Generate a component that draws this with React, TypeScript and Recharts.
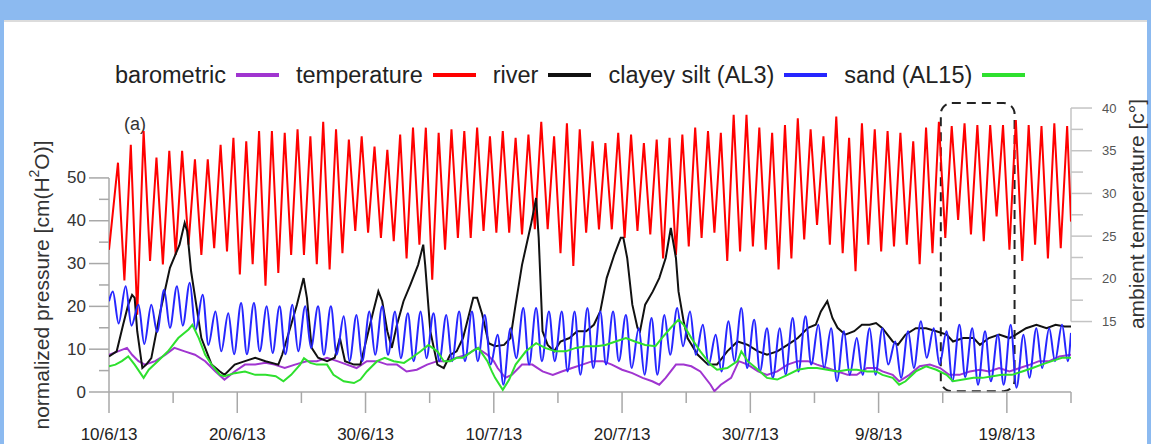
import { LineChart, Line, XAxis, YAxis, ReferenceLine, ReferenceArea } from "recharts";

// x axis: days since 10/6/13
const X_TICKS = [0, 5, 10, 15, 20, 25, 30, 35, 40, 45, 50, 55, 60, 65, 70, 75];
const X_TICK_LABELS = [
  "10/6/13", "", "20/6/13", "", "30/6/13", "", "10/7/13", "", "20/7/13", "",
  "30/7/13", "", "9/8/13", "", "19/8/13", "",
];
const PRESSURE_TICKS = [0, 5, 10, 15, 20, 25, 30, 35, 40, 45, 50];
const TEMP_TICKS = [15, 17.5, 20, 22.5, 25, 27.5, 30, 32.5, 35, 37.5, 40];

// ambient temperature [c°], daily maxima (afternoon) and minima (early morning)
const TEMP_START = 23.4;
const TEMP_END = 26.7;
const TEMP_DAILY_MAX = [
  33.6, 35.7, 37.3, 34.2, 35.0, 35.0, 34.0, 34.0, 35.7, 36.5,
  36.1, 37.3, 37.3, 37.1, 37.5, 36.7, 38.4, 37.5, 36.3, 36.7,
  35.5, 35.1, 36.9, 37.7, 37.7, 37.1, 37.5, 37.3, 37.7, 36.7,
  37.3, 36.5, 36.9, 38.4, 36.7, 38.2, 37.5, 36.1, 35.9, 37.1,
  36.9, 35.9, 36.3, 36.5, 36.9, 37.7, 37.3, 37.1, 39.2, 39.2,
  37.7, 37.1, 38.0, 38.8, 37.5, 36.7, 39.0, 36.5, 38.2, 37.5,
  37.3, 37.1, 36.1, 37.7, 38.4, 37.9, 38.2, 38.0, 38.0, 38.0,
  38.6, 38.0, 37.9, 38.2, 37.9,
];
const TEMP_DAILY_MIN = [
  19.8, 15.8, 22.1, 21.7, 22.8, 24.0, 22.8, 23.6, 23.2, 20.5,
  21.7, 19.2, 20.7, 22.8, 22.8, 21.7, 21.1, 23.0, 25.6, 25.4,
  24.8, 24.4, 22.4, 24.0, 19.9, 23.4, 24.8, 24.8, 25.6, 25.4,
  25.4, 25.2, 25.8, 25.8, 23.0, 21.5, 25.4, 25.8, 25.8, 24.8,
  25.6, 25.2, 22.4, 22.8, 23.8, 24.8, 25.4, 22.1, 23.2, 23.8,
  23.4, 21.1, 22.4, 24.6, 26.3, 24.0, 23.0, 20.9, 24.0, 23.2,
  23.8, 24.0, 21.7, 23.0, 24.8, 26.9, 25.2, 24.4, 27.3, 23.4,
  22.1, 24.0, 22.4, 23.6,
];

// clayey silt (AL3) pressure [cm(H2O)], daily maxima and minima
const CLAY_START = 21.2;
const CLAY_END = 13.8;
const CLAY_DAILY_MAX = [
  23.5, 24.7, 20.4, 20.4, 23.9, 24.7, 25.5, 22.7, 18.8, 18.4,
  20.8, 20.8, 20.0, 20.0, 20.4, 20.0, 20.0, 20.0, 17.7, 18.0,
  18.8, 20.0, 18.8, 18.4, 18.8, 18.4, 18.0, 18.8, 18.8, 18.0,
  13.4, 14.9, 19.6, 19.6, 18.8, 18.8, 18.8, 19.6, 18.8, 18.8,
  18.0, 14.9, 17.3, 18.0, 19.6, 18.8, 15.7, 13.4, 16.5, 19.6,
  16.9, 14.9, 14.9, 17.3, 17.7, 15.7, 14.9, 14.2, 12.6, 14.9,
  14.9, 11.8, 14.2, 16.5, 14.9, 14.2, 15.7, 14.9, 14.2, 13.4,
  15.7, 13.4, 14.9, 14.9, 15.7,
];
const CLAY_DAILY_MIN = [
  16.0, 15.5, 11.2, 14.0, 15.0, 15.5, 14.5, 11.0, 9.5, 8.8,
  8.8, 9.5, 9.1, 8.8, 9.5, 10.3, 8.7, 8.7, 7.2, 7.2,
  8.7, 8.7, 7.9, 7.2, 7.9, 7.2, 7.2, 7.2, 7.2, 6.4,
  1.7, 7.9, 6.4, 7.2, 7.2, 4.8, 4.0, 5.6, 6.4, 7.2,
  5.6, 4.0, 4.0, 8.7, 10.7, 8.7, 6.4, 4.8, 7.2, 5.6,
  4.8, 3.3, 4.0, 4.8, 6.4, 5.6, 2.5, 4.0, 4.0, 4.0,
  6.4, 3.3, 5.6, 8.0, 6.4, 2.5, 3.5, 1.7, 2.5, 1.7,
  1.0, 3.3, 5.6, 7.2, 7.2,
];

// [day, pressure]
const BAROMETRIC: [number, number][] = [
  [0, 8.7], [0.7, 9.5], [1.4, 10.3], [1.8, 8.7], [2.3, 7.2], [2.8, 6.4], [3.6, 7.2], [4.4, 8.7],
  [5.1, 10.3], [5.9, 9.5], [6.7, 8.7], [7.5, 7.2], [8.3, 4.8], [9.0, 2.9], [9.8, 4.8], [10.6, 6.4],
  [11.4, 6.4], [12.2, 6.8], [12.9, 6.4], [13.7, 5.6], [14.5, 6.4], [15.4, 7.2], [16.2, 7.2], [17.0, 8.0],
  [17.8, 7.2], [18.55, 6.4], [19.3, 5.6], [20.1, 7.2], [20.9, 7.2], [21.7, 6.4], [22.45, 6.4], [23.2, 4.8],
  [24.0, 5.2], [24.8, 6.4], [25.6, 7.2], [26.3, 7.2], [27.1, 8.0], [27.9, 8.7], [28.7, 10.3], [29.5, 8.7],
  [30.0, 7.2], [30.3, 5.6], [30.9, 3.3], [31.4, 4.0], [32.2, 6.4], [33.0, 6.4], [33.8, 4.8], [34.6, 4.0],
  [35.3, 4.8], [36.1, 5.6], [36.9, 6.4], [37.7, 7.2], [38.5, 7.2], [39.2, 6.4], [40.0, 5.2], [40.8, 4.4],
  [41.6, 3.3], [42.35, 2.5], [42.9, 1.7], [43.4, 3.3], [44.2, 6.4], [44.8, 6.4], [45.4, 6.0], [46.1, 4.8],
  [46.9, 1.7], [47.2, 0.2], [47.7, 1.7], [48.5, 3.3], [49.1, 7.2], [49.8, 6.4], [50.6, 4.8], [51.3, 4.0],
  [52.1, 4.8], [52.9, 6.4], [53.7, 7.2], [54.5, 7.2], [55.2, 6.4], [56.0, 5.6], [56.8, 4.8], [57.6, 4.0],
  [58.3, 4.0], [59.1, 5.6], [59.8, 5.6], [60.3, 4.8], [61.1, 4.0], [61.6, 2.5], [62.4, 4.0], [63.2, 6.0],
  [64.0, 6.4], [64.8, 5.6], [65.5, 4.0], [66.3, 4.0], [67.1, 4.8], [67.9, 5.2], [68.6, 4.8], [69.4, 5.6],
  [70.2, 4.8], [71.0, 5.6], [71.8, 6.4], [72.5, 7.2], [73.3, 7.2], [74.1, 8.3], [75, 8.7],
];

const RIVER: [number, number][] = [
  [0, 8.3], [0.6, 9.5], [1.1, 15.7], [1.5, 20.4], [1.8, 22.7], [2.0, 22.0], [2.2, 14.2], [2.6, 5.6],
  [2.9, 6.4], [3.3, 7.9], [4.0, 18.8], [4.75, 29.0], [5.5, 34.4], [5.9, 39.5], [6.1, 37.5], [6.4, 28.2],
  [7.2, 12.6], [8.0, 6.4], [8.65, 4.8], [9.0, 4.0], [9.8, 6.4], [10.6, 7.2], [11.4, 8.0], [12.2, 7.2],
  [13.2, 6.4], [13.5, 8.7], [14.2, 15.7], [14.65, 20.4], [15.17, 26.6], [15.43, 22.0], [15.8, 10.3], [16.3, 8.0],
  [17.0, 7.2], [17.6, 8.0], [18.0, 12.6], [18.4, 7.2], [19.1, 6.4], [19.6, 6.4], [20.1, 12.6], [20.6, 18.8],
  [21.0, 23.5], [21.3, 21.2], [21.7, 14.2], [22.05, 10.3], [22.45, 15.7], [22.96, 21.2], [23.5, 25.1], [24.1, 29.7],
  [24.5, 34.4], [24.65, 29.7], [25.05, 14.2], [25.6, 6.4], [26.1, 5.6], [26.6, 8.7], [27.1, 9.5], [27.6, 12.6],
  [28.0, 17.3], [28.4, 22.0], [28.7, 22.0], [29.1, 18.1], [29.6, 11.4], [30.1, 10.7], [30.8, 11.0], [31.3, 12.6],
  [31.7, 20.4], [32.2, 29.7], [32.9, 39.1], [33.3, 45.3], [33.5, 36.0], [33.8, 14.2], [34.2, 11.0], [34.7, 9.5],
  [35.2, 11.8], [35.9, 12.6], [36.5, 14.2], [37.2, 14.2], [37.8, 15.7], [38.3, 18.8], [38.8, 26.6], [39.4, 32.1],
  [39.9, 36.0], [40.1, 36.0], [40.4, 31.3], [40.8, 20.4], [41.2, 15.0], [41.4, 14.2], [41.8, 20.4], [42.4, 23.5],
  [42.9, 26.6], [43.4, 31.3], [43.8, 38.3], [44.2, 31.3], [44.4, 23.5], [44.8, 16.5], [45.1, 12.6], [45.9, 8.7],
  [46.7, 6.4], [47.4, 6.4], [48.2, 9.5], [49.0, 11.8], [49.8, 11.0], [50.6, 9.5], [51.3, 8.7], [52.1, 9.5],
  [52.9, 11.0], [53.7, 12.6], [54.5, 15.0], [55.1, 15.7], [55.5, 18.8], [56.0, 21.2], [56.4, 17.3], [56.8, 15.0],
  [57.4, 13.4], [58.1, 14.2], [58.7, 15.7], [59.3, 15.7], [59.8, 16.1], [60.3, 14.9], [61.1, 11.8], [61.5, 11.0],
  [62.1, 13.4], [62.9, 14.9], [63.7, 14.9], [64.5, 14.2], [65.3, 13.4], [65.8, 11.8], [66.6, 12.6], [67.4, 12.6],
  [67.9, 11.0], [68.6, 12.6], [69.4, 13.4], [70.2, 12.6], [70.7, 13.4], [71.5, 14.9], [72.3, 15.7], [73.1, 14.9],
  [73.8, 15.7], [74.5, 15.3], [75, 15.3],
];

const SAND: [number, number][] = [
  [0, 6.0], [0.5, 6.4], [1.0, 7.2], [1.5, 8.3], [2.0, 6.4], [2.7, 3.3], [3.1, 5.2], [3.8, 7.2],
  [4.6, 9.5], [5.4, 12.6], [6.2, 14.6], [6.5, 15.7], [7.0, 12.6], [7.5, 8.7], [8.0, 6.4], [8.65, 4.0],
  [9.0, 3.7], [9.8, 4.4], [10.6, 4.8], [11.4, 4.0], [12.2, 4.0], [13.0, 3.7], [13.6, 2.5], [14.2, 4.0],
  [14.9, 6.4], [15.2, 7.9], [15.7, 6.8], [16.2, 6.4], [17.0, 6.4], [17.5, 4.0], [18.3, 2.5], [19.1, 2.1],
  [19.6, 2.9], [20.1, 4.8], [20.9, 7.2], [21.5, 8.0], [22.2, 7.2], [23.0, 6.8], [23.6, 8.0], [24.3, 9.5],
  [24.9, 11.0], [25.6, 9.5], [26.1, 7.2], [26.6, 7.2], [27.1, 8.0], [27.6, 8.0], [28.3, 9.5], [28.8, 10.3],
  [29.5, 7.2], [29.85, 4.8], [30.1, 3.3], [30.7, 0.5], [31.2, 2.9], [31.7, 6.4], [32.5, 9.5], [33.3, 11.4],
  [34.0, 10.3], [34.8, 9.5], [35.6, 9.5], [36.4, 10.3], [37.2, 10.7], [38.0, 10.7], [38.7, 11.0], [39.5, 11.8],
  [40.3, 12.6], [41.0, 11.8], [41.8, 11.0], [42.6, 10.7], [43.1, 12.6], [43.8, 15.0], [44.4, 16.9], [44.8, 15.7],
  [45.4, 12.6], [46.1, 9.5], [46.9, 6.4], [47.4, 5.2], [48.2, 5.6], [49.0, 7.2], [49.3, 9.5], [49.8, 7.2],
  [50.6, 5.2], [51.3, 3.3], [52.1, 2.9], [52.9, 4.0], [53.7, 5.2], [54.5, 5.6], [55.2, 5.6], [56.0, 5.2],
  [56.8, 4.8], [57.6, 5.2], [58.3, 5.2], [59.1, 4.8], [59.8, 4.8], [60.3, 4.0], [61.1, 3.3], [61.6, 1.7],
  [62.1, 2.5], [62.9, 4.8], [63.7, 6.0], [64.5, 5.2], [65.3, 4.0], [65.8, 2.5], [66.6, 2.9], [67.4, 3.3],
  [68.1, 3.3], [68.9, 3.7], [69.6, 4.0], [70.4, 4.0], [71.2, 4.8], [72.0, 5.6], [72.7, 6.4], [73.5, 7.2],
  [74.3, 8.0], [75, 8.0],
];

// zoom window marked on the plot (days)
const WINDOW_START = 64.85;
const WINDOW_END = 70.6;

type Pt = { day: number; v: number };

const pairs = (rows: [number, number][]): Pt[] => rows.map(([day, v]) => ({ day, v }));

function dailyCycle(start: number, maxs: number[], mins: number[], end: number, tMax: number, tMin: number): Pt[] {
  const pts: Pt[] = [{ day: 0, v: start }];
  maxs.forEach((v, d) => {
    const a = { day: d + tMax, v };
    const b = d < mins.length ? { day: d + tMin, v: mins[d] } : null;
    if (b && b.day < a.day) pts.push(b, a);
    else {
      pts.push(a);
      if (b) pts.push(b);
    }
  });
  pts.push({ day: 75, v: end });
  return pts;
}

// temperature: max ~ mid afternoon, min next morning
const temperatureData = dailyCycle(TEMP_START, TEMP_DAILY_MAX, TEMP_DAILY_MIN, TEMP_END, 0.7, 1.2);
const clayData = dailyCycle(CLAY_START, CLAY_DAILY_MAX, CLAY_DAILY_MIN, CLAY_END, 0.3, 0.75);

const SERIES = [
  { name: "barometric", color: "#a035d0", data: pairs(BAROMETRIC), axis: "p", curve: "linear" },
  { name: "temperature", color: "#ff0000", data: temperatureData, axis: "t", curve: "linear" },
  { name: "river", color: "#111111", data: pairs(RIVER), axis: "p", curve: "linear" },
  { name: "clayey silt (AL3)", color: "#2626ff", data: clayData, axis: "p", curve: "monotone" },
  { name: "sand (AL15)", color: "#2ee02e", data: pairs(SAND), axis: "p", curve: "linear" },
];

const FONT = "'Liberation Sans', Arial, sans-serif";
const AXIS_GRAY = "#a8a8a8";

function PressureTick({ x, y, payload }: any) {
  const major = payload.value % 10 === 0;
  return (
    <g>
      <line x1={x - (major ? 20 : 10)} x2={x} y1={y} y2={y} stroke={AXIS_GRAY} strokeWidth={1.5} />
      {major && (
        <text x={x - 23} y={y} textAnchor="end" dominantBaseline="central" fontSize={17} fill="#333" fontFamily={FONT}>
          {payload.value}
        </text>
      )}
    </g>
  );
}

function TempTick({ x, y, payload }: any) {
  const major = payload.value % 5 === 0;
  return (
    <g>
      <line x1={x} x2={x + (major ? 21 : 12)} y1={y} y2={y} stroke="#c4c4c4" strokeWidth={1.5} />
      {major && (
        <text x={x + 31} y={y} textAnchor="start" dominantBaseline="central" fontSize={13} fill="#555" fontFamily={FONT}>
          {payload.value}
        </text>
      )}
    </g>
  );
}

function DateTick({ x, y, index }: any) {
  const label = X_TICK_LABELS[index];
  return (
    <g>
      <line x1={x} x2={x} y1={y} y2={y + (label ? 21 : 11)} stroke={AXIS_GRAY} strokeWidth={1.5} />
      {label && (
        <text x={x} y={y + 48} textAnchor="middle" fontSize={17} fill="#222" fontFamily={FONT}>
          {label}
        </text>
      )}
    </g>
  );
}

function Legend() {
  return (
    <div
      style={{
        position: "absolute",
        left: 115,
        top: 61,
        height: 28,
        display: "flex",
        alignItems: "center",
        fontFamily: FONT,
        fontSize: 23.5,
        color: "#222",
        whiteSpace: "nowrap",
      }}
    >
      {SERIES.map((s) => (
        <div key={s.name} style={{ display: "flex", alignItems: "center", marginRight: 17 }}>
          <span>{s.name}</span>
          <span style={{ display: "inline-block", width: 43, height: 4, marginLeft: 10, background: s.color }} />
        </div>
      ))}
    </div>
  );
}

export default function App() {
  return (
    <div style={{ position: "absolute", left: 0, top: 0, width: 1151, height: 444, background: "#fff", overflow: "hidden" }}>
      <div style={{ position: "absolute", left: 0, top: 0, width: 1151, height: 20, background: "#8cbaf0" }} />
      <div style={{ position: "absolute", left: 0, top: 20, width: 1151, height: 2, background: "#dcdcdc" }} />
      <div style={{ position: "absolute", left: 0, top: 0, width: 4, height: 444, background: "#8cbaf0" }} />
      <div style={{ position: "absolute", left: 1147, top: 0, width: 4, height: 444, background: "#8cbaf0" }} />
      <Legend />
      <div style={{ position: "absolute", left: 0, top: 0 }}>
        <LineChart width={1151} height={444} margin={{ top: 100, right: 20, bottom: 12, left: 49 }}>
          <XAxis
            xAxisId={0}
            type="number"
            dataKey="day"
            domain={[0, 75]}
            ticks={X_TICKS}
            interval={0}
            height={40}
            axisLine={false}
            tickLine={false}
            tickSize={0}
            tickMargin={0}
            tick={<DateTick />}
            allowDataOverflow
          />
          <YAxis
            yAxisId="p"
            orientation="left"
            type="number"
            domain={[0, 68.2]}
            ticks={PRESSURE_TICKS}
            interval={0}
            width={60}
            axisLine={false}
            tickLine={false}
            tickSize={0}
            tickMargin={0}
            tick={<PressureTick />}
            allowDataOverflow
          />
          <YAxis
            yAxisId="t"
            orientation="right"
            type="number"
            domain={[6.75, 40.94]}
            ticks={TEMP_TICKS}
            interval={0}
            width={60}
            axisLine={false}
            tickLine={false}
            tickSize={0}
            tickMargin={0}
            tick={<TempTick />}
            allowDataOverflow
          />
          <ReferenceLine yAxisId="p" y={0} stroke={AXIS_GRAY} strokeWidth={1.5} />
          <ReferenceLine yAxisId="p" segment={[{ x: 0, y: 0 }, { x: 0, y: 50 }]} stroke={AXIS_GRAY} strokeWidth={1.5} />
          <ReferenceLine yAxisId="t" segment={[{ x: 75, y: 15 }, { x: 75, y: 40 }]} stroke="#c4c4c4" strokeWidth={1.5} />
          {SERIES.map((s) => (
            <Line
              key={s.name}
              yAxisId={s.axis}
              data={s.data}
              dataKey="v"
              name={s.name}
              type={s.curve as any}
              stroke={s.color}
              strokeWidth={2}
              dot={false}
              isAnimationActive={false}
            />
          ))}
          <ReferenceArea
            yAxisId="p"
            x1={WINDOW_START}
            x2={WINDOW_END}
            y1={0.2}
            y2={67.5}
            shape={(p: any) => (
              <rect
                x={p.x}
                y={p.y}
                width={p.width}
                height={p.height}
                rx={11}
                fill="none"
                stroke="#222"
                strokeWidth={2}
                strokeDasharray="9 6"
              />
            )}
          />
          <text x={124} y={130} fontSize={18} fill="#333" fontFamily={FONT}>
            (a)
          </text>
          <text transform="translate(41,285) rotate(-90)" textAnchor="middle" dominantBaseline="central" fontSize={21} fill="#333" fontFamily={FONT}>
            normalized pressure [cm(H<tspan dy={-7} fontSize={14}>2</tspan>
            <tspan dy={7}>O)]</tspan>
          </text>
          <text transform="translate(1136,214) rotate(-90)" textAnchor="middle" dominantBaseline="central" fontSize={21} fill="#333" fontFamily={FONT}>
            ambient temperature [c°]
          </text>
        </LineChart>
      </div>
    </div>
  );
}
